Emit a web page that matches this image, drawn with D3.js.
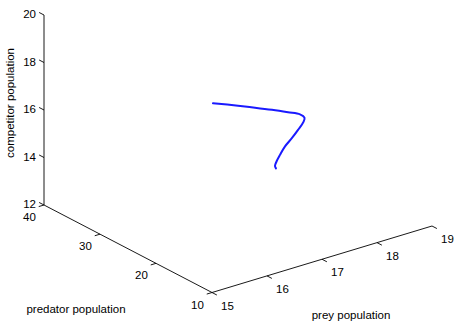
<!DOCTYPE html>
<html>
<head>
<meta charset="utf-8">
<script src="https://cdn.jsdelivr.net/npm/d3@7"></script>
<style>
  html, body { margin: 0; padding: 0; background: #fff; }
  svg { display: block; }
  text { font-family: Arial, "Liberation Sans", sans-serif; font-size: 11.5px; fill: #000; }
</style>
</head>
<body>
<svg id="chart" width="458" height="324"></svg>
<script>
// Trajectory of the three populations (prey, predator, competitor)
const prey       = [17.665, 17.815, 17.920, 18.025, 18.113, 18.127, 18.056, 17.936, 17.735, 17.524, 17.295, 17.102, 16.957, 16.858, 16.825];
const predator   = [36.0, 33.0, 31.0, 29.0, 27.0, 25.0, 23.5, 22.5, 21.5, 20.5, 19.5, 18.5, 17.7, 17.0, 16.5];
const competitor = [14.91, 15.07, 15.16, 15.24, 15.32, 15.47, 15.57, 15.59, 15.52, 15.45, 15.38, 15.28, 15.20, 15.17, 15.15];

// Axis ticks
const preyTicks = [15, 16, 17, 18, 19];
const predTicks = [10, 20, 30, 40];
const compTicks = [12, 14, 16, 18, 20];

const svg = d3.select("#chart");

// Screen positions of the 3-D box corners (orthographic view)
const corner  = { x: 212, y: 292.5 };   // prey=15, predator=10, competitor=12
const preyEnd = { x: 432, y: 226 };     // prey=19
const predEnd = { x: 44,  y: 205 };     // predator=40
const compTop = { x: 44,  y: 15 };      // competitor=20

const sPrey = d3.scaleLinear().domain([15, 19]).range([0, 1]);
const sPred = d3.scaleLinear().domain([10, 40]).range([0, 1]);
const sComp = d3.scaleLinear().domain([12, 20]).range([0, 1]);

function project(py, pd, cp) {
  const a = sPrey(py), b = sPred(pd), c = sComp(cp);
  return [
    corner.x + a * (preyEnd.x - corner.x) + b * (predEnd.x - corner.x) + c * (compTop.x - predEnd.x),
    corner.y + a * (preyEnd.y - corner.y) + b * (predEnd.y - corner.y) + c * (compTop.y - predEnd.y)
  ];
}

const axisG = svg.append("g").attr("stroke", "#000").attr("stroke-width", 0.9).attr("fill", "none");

// Axis lines
const axisLine = d3.line();
axisG.append("path").attr("d", axisLine([project(15, 10, 12), project(19, 10, 12)]));
axisG.append("path").attr("d", axisLine([project(15, 10, 12), project(15, 40, 12)]));
axisG.append("path").attr("d", axisLine([project(15, 40, 12), project(15, 40, 20)]));

// Tick directions
function unit(dx, dy) { const l = Math.hypot(dx, dy); return [dx / l, dy / l]; }
const predDir = unit(predEnd.x - corner.x, predEnd.y - corner.y);
const preyDir = unit(preyEnd.x - corner.x, preyEnd.y - corner.y);
const tickLen = 5.5;

// Prey ticks point toward lower predator values
preyTicks.forEach(t => {
  const p = project(t, 10, 12);
  axisG.append("path").attr("d", axisLine([p, [p[0] - predDir[0] * tickLen, p[1] - predDir[1] * tickLen]]));
  svg.append("text").attr("x", p[0] + 15.5).attr("y", p[1] + 13).attr("dy", "0.35em")
    .attr("text-anchor", "middle").text(t);
});

// Predator ticks point toward lower prey values
predTicks.forEach(t => {
  const p = project(15, t, 12);
  axisG.append("path").attr("d", axisLine([p, [p[0] - preyDir[0] * tickLen, p[1] - preyDir[1] * tickLen]]));
  svg.append("text").attr("x", p[0] - 14.5).attr("y", p[1] + 12).attr("dy", "0.35em")
    .attr("text-anchor", "middle").text(t);
});

// Competitor ticks point toward higher predator values
compTicks.forEach(t => {
  const p = project(15, 40, t);
  axisG.append("path").attr("d", axisLine([p, [p[0] + predDir[0] * tickLen, p[1] + predDir[1] * tickLen]]));
  svg.append("text").attr("x", p[0] - 8).attr("y", p[1] - 1).attr("dy", "0.35em")
    .attr("text-anchor", "end").text(t);
});

// Axis titles
svg.append("text").attr("x", 351).attr("y", 315).attr("dy", "0.35em")
  .attr("text-anchor", "middle").text("prey population");
svg.append("text").attr("x", 76).attr("y", 309).attr("dy", "0.35em")
  .attr("text-anchor", "middle").text("predator population");
svg.append("text").attr("transform", "translate(10,103) rotate(-90)").attr("dy", "0.35em")
  .attr("text-anchor", "middle").text("competitor population");

// Trajectory
const pts = prey.map((v, i) => project(v, predator[i], competitor[i]));
svg.append("path")
  .attr("d", d3.line().curve(d3.curveCatmullRom)(pts))
  .attr("fill", "none")
  .attr("stroke", "#1a1aff")
  .attr("stroke-width", 2)
  .attr("stroke-linejoin", "round")
  .attr("stroke-linecap", "round");
</script>
</body>
</html>
